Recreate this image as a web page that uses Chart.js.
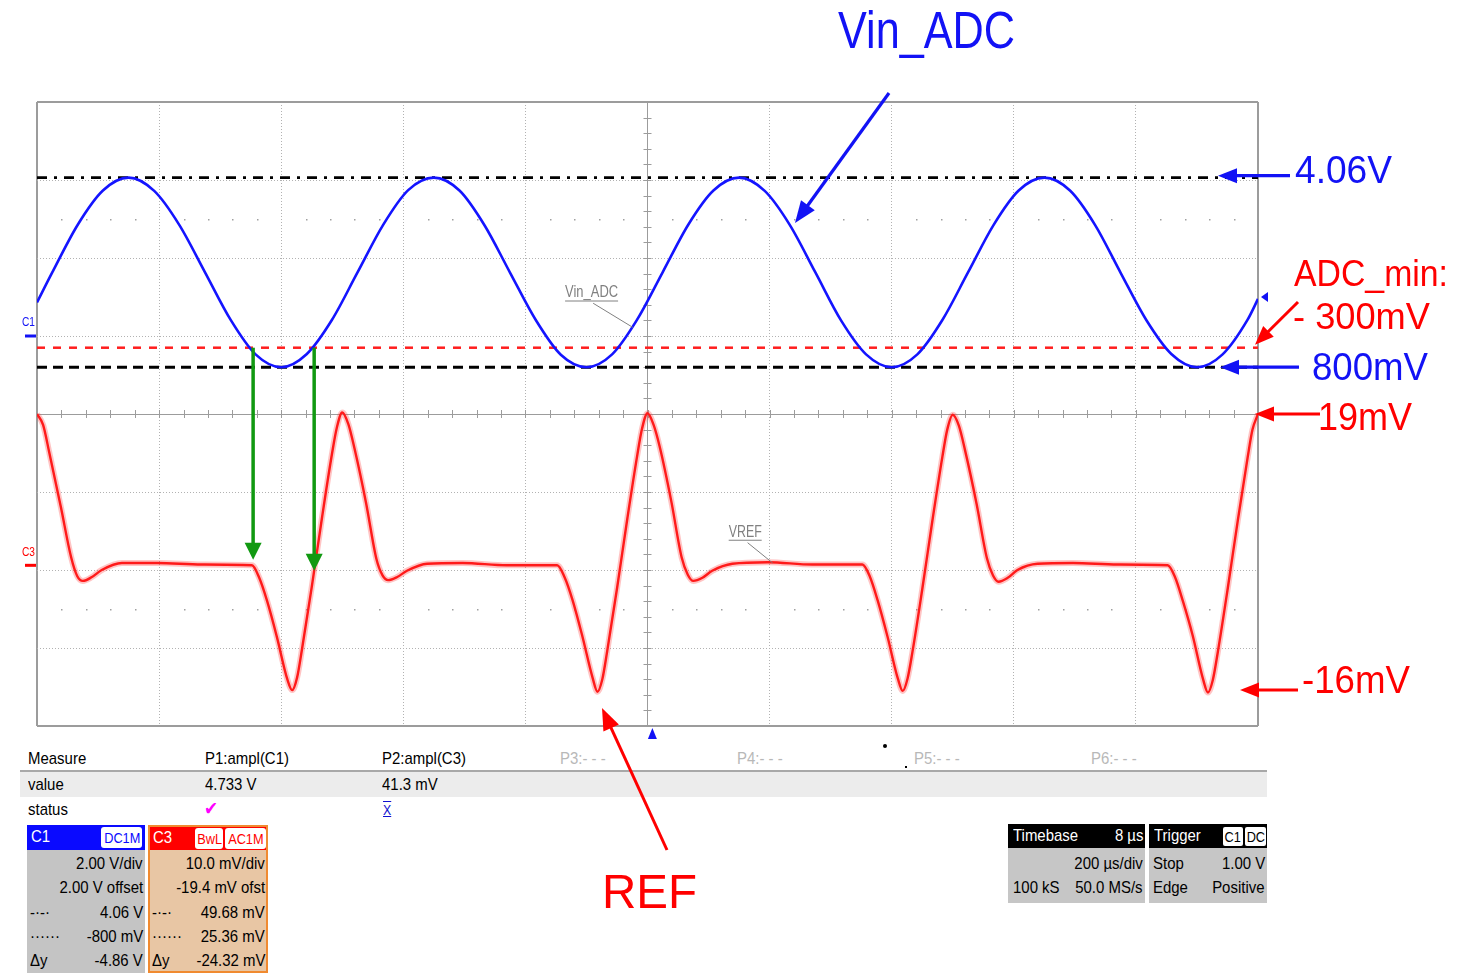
<html><head>
<meta charset="UTF-8">
<title>Vin_ADC / REF scope capture</title>
<script src="https://cdn.jsdelivr.net/npm/chart.js"></script>
<style>
* { margin: 0; padding: 0; box-sizing: border-box; }
body { width: 1470px; height: 973px; background: #fff; overflow: hidden; position: relative;
  font-family: "Liberation Sans", Arial, sans-serif; }
#wrap { position: absolute; left: 0; top: 0; width: 1470px; height: 973px; z-index: 5; pointer-events: none; }
.t { position: absolute; font-size: 17px; line-height: 20px; white-space: nowrap; color: #000;
  transform: scaleX(.88); transform-origin: left center; }
.t.r { transform-origin: right center; text-align: right; }
.dim { color: #b8b8b8; }
.box { position: absolute; }
.hd { position: absolute; left: 0; top: 0; right: 0; height: 25px; }
.tag { position: absolute; top: 2px; height: 21px; background: #fff; border-radius: 3px;
  font-size: 15px; line-height: 21px; text-align: center; white-space: nowrap; }
.tag span { display: inline-block; transform: scaleX(.85); }
</style>
</head>
<body>
<div id="wrap"><canvas id="scope"></canvas></div>

<!-- measurement strip -->
<div class="t" style="left:28px;top:749px">Measure</div>
<div class="t" style="left:205px;top:749px">P1:ampl(C1)</div>
<div class="t" style="left:382px;top:749px">P2:ampl(C3)</div>
<div class="t dim" style="left:560px;top:749px">P3:- - -</div>
<div class="t dim" style="left:737px;top:749px">P4:- - -</div>
<div class="t dim" style="left:914px;top:749px">P5:- - -</div>
<div class="t dim" style="left:1091px;top:749px">P6:- - -</div>
<div style="position:absolute;left:20px;top:770px;width:1247px;height:2px;background:#a8a8a8"></div>
<div style="position:absolute;left:20px;top:772px;width:1247px;height:25px;background:#ececec"></div>
<div class="t" style="left:28px;top:775px">value</div>
<div class="t" style="left:205px;top:775px">4.733 V</div>
<div class="t" style="left:382px;top:775px">41.3 mV</div>
<div class="t" style="left:28px;top:800px">status</div>
<div class="t" style="left:204px;top:799px;color:#ff00ff;font-size:19px">✔</div>
<div class="t" style="left:383px;top:800px;color:#1010d0;font-size:14px;text-decoration:overline underline">X</div>
<div style="position:absolute;left:883px;top:744px;width:4px;height:4px;border-radius:2px;background:#000"></div>
<div style="position:absolute;left:905px;top:766px;width:2px;height:2px;background:#000"></div>

<!-- C1 channel box -->
<div class="box" style="left:27px;top:825px;width:118px;height:148px;background:#c4c4c4">
  <div class="hd" style="background:#0a0aff"></div>
  <div class="t" style="left:4px;top:2px;color:#fff">C1</div>
  <div class="tag" style="left:74px;width:41px;color:#0a0aff"><span>DC1M</span></div>
  <div class="t r" style="right:2px;top:29px">2.00 V/div</div>
  <div class="t r" style="right:2px;top:53px">2.00 V offset</div>
  <div class="t" style="left:3px;top:78px">-·-·</div>
  <div class="t r" style="right:2px;top:78px">4.06 V</div>
  <div class="t" style="left:3px;top:102px">······</div>
  <div class="t r" style="right:2px;top:102px">-800 mV</div>
  <div class="t" style="left:3px;top:126px">Δy</div>
  <div class="t r" style="right:2px;top:126px">-4.86 V</div>
</div>

<!-- C3 channel box -->
<div class="box" style="left:148px;top:825px;width:120px;height:148px;background:#e8c6a4;border:2px solid #f08a30">
  <div class="hd" style="background:#ff0000;height:23px"></div>
  <div class="t" style="left:3px;top:1px;color:#fff">C3</div>
  <div class="tag" style="left:45px;top:1px;width:28px;color:#ff0000"><span>BwL</span></div>
  <div class="tag" style="left:75px;top:1px;width:41px;color:#ff0000"><span>AC1M</span></div>
  <div class="t r" style="right:1px;top:27px">10.0 mV/div</div>
  <div class="t r" style="right:1px;top:51px">-19.4 mV ofst</div>
  <div class="t" style="left:2px;top:76px">-·-·</div>
  <div class="t r" style="right:1px;top:76px">49.68 mV</div>
  <div class="t" style="left:2px;top:100px">······</div>
  <div class="t r" style="right:1px;top:100px">25.36 mV</div>
  <div class="t" style="left:2px;top:124px">Δy</div>
  <div class="t r" style="right:1px;top:124px">-24.32 mV</div>
</div>

<!-- timebase / trigger boxes -->
<div class="box" style="left:1008px;top:824px;width:137px;height:79px;background:#c6c6c6">
  <div class="hd" style="background:#000;height:24px"></div>
  <div class="t" style="left:5px;top:2px;color:#fff">Timebase</div>
  <div class="t r" style="right:2px;top:2px;color:#fff">8 µs</div>
  <div class="t r" style="right:2px;top:30px">200 µs/div</div>
  <div class="t" style="left:5px;top:54px">100 kS</div>
  <div class="t r" style="right:2px;top:54px">50.0 MS/s</div>
</div>
<div class="box" style="left:1149px;top:824px;width:118px;height:79px;background:#c6c6c6">
  <div class="hd" style="background:#000;height:24px"></div>
  <div class="t" style="left:5px;top:2px;color:#fff">Trigger</div>
  <div class="tag" style="left:74px;top:3px;width:20px;height:19px;line-height:19px;border-radius:2px;color:#000"><span>C1</span></div>
  <div class="tag" style="left:96px;top:3px;width:21px;height:19px;line-height:19px;border-radius:2px;color:#000"><span>DC</span></div>
  <div class="t" style="left:4px;top:30px">Stop</div>
  <div class="t r" style="right:2px;top:30px">1.00 V</div>
  <div class="t" style="left:4px;top:54px">Edge</div>
  <div class="t r" style="right:2px;top:54px">Positive</div>
</div>

<script>
// time axis in µs, 200 µs/div, 10 divisions
const timeMin = -1000, timeMax = 1000, timeStep = 200;

// C1 (Vin_ADC), volts
const vinT = [-1000, -975, -933, -892, -850, -808, -767, -725, -683, -642, -600, -558, -517,
  -475, -433, -392, -350, -308, -267, -225, -183, -142, -100, -58, -17,
  25, 67, 108, 150, 192, 233, 275, 317, 358, 400, 442, 483,
  525, 567, 608, 650, 692, 733, 775, 817, 858, 900, 942, 983, 1000];
const vinV = [0.86, 1.63, 2.86, 3.73, 4.06, 3.72, 2.85, 1.64, 0.42, -0.47, -0.80, -0.46, 0.41,
  1.63, 2.85, 3.74, 4.06, 3.73, 2.84, 1.62, 0.41, -0.48, -0.80, -0.47, 0.42,
  1.64, 2.86, 3.73, 4.06, 3.72, 2.85, 1.63, 0.40, -0.47, -0.80, -0.47, 0.41,
  1.63, 2.85, 3.73, 4.06, 3.73, 2.85, 1.62, 0.41, -0.46, -0.80, -0.47, 0.42, 0.95];

// C3 (REF), mV
const refT = [-1000, -990, -980, -961, -944, -934, -925, -910, -894, -861, -803, -730, -648, -636, -623, -607, -590, -582, -574, -566, -550, -533, -517, -509,
  -500, -490, -480, -461, -444, -434, -425, -410, -394, -361, -303, -230, -148, -136, -123, -107, -90, -82, -74, -66, -50, -33, -17, -9,
  0, 10, 20, 39, 56, 66, 75, 90, 106, 139, 197, 270, 352, 364, 377, 393, 410, 418, 426, 434, 450, 467, 483, 491,
  500, 510, 520, 539, 556, 566, 575, 590, 606, 639, 697, 770, 852, 864, 877, 893, 910, 918, 926, 934, 950, 967, 983, 991,
  1000];
const refMv = [19.4, 18.0, 14.5, 7.5, 1.0, -1.4, -2.0, -1.5, -0.6, 0.3, 0.3, 0.1, 0.0, -1.6, -4.6, -9.2, -14.6, -16.0, -14.4, -10.8, -2.8, 6.2, 14.2, 17.6,
  19.6, 18.1, 15.0, 8.0, 0.8, -1.3, -1.9, -1.5, -0.7, 0.2, 0.3, 0.0, 0.0, -1.5, -4.4, -9.0, -14.4, -16.2, -14.6, -11.0, -3.0, 6.0, 14.0, 17.5,
  19.5, 18.0, 15.2, 8.2, 1.0, -1.2, -2.0, -1.6, -0.7, 0.2, 0.4, 0.1, 0.1, -1.4, -4.5, -9.1, -14.5, -16.1, -14.5, -11.1, -3.1, 5.9, 13.9, 17.4,
  19.3, 17.9, 14.8, 7.9, 0.9, -1.3, -2.1, -1.6, -0.6, 0.2, 0.3, 0.1, 0.0, -1.5, -4.6, -9.0, -14.6, -16.3, -14.7, -11.2, -3.2, 5.8, 13.8, 17.4,
  19.4];

// cursors (C1 volts)
const cursorMax = 4.06;
const cursorMin = -0.80;
const adcMin = -0.30;
const trigLevel = 1.00;
const trigDelay = 8;

// crossing points of Vin_ADC with ADC_min (µs) and where they land on REF (mV)
const crossT = [-646, -546];
const crossRefMv = [0.7, -0.7];

function pts(xs, ys) { return xs.map((x, i) => ({ x: x, y: ys[i] })); }
function flat(v) { return [{ x: timeMin, y: v }, { x: timeMax, y: v }]; }

const edge = (v, lo, hi) => v === lo || v === hi;
function gridOpts(lo, hi, mid) {
  return {
    color: c => c.tick && (edge(c.tick.value, lo, hi) || c.tick.value === mid) ? '#9c9c9c' : '#b2b2b2',
    lineWidth: c => c.tick && edge(c.tick.value, lo, hi) ? 2 : 1,
    drawTicks: false
  };
}
function dashOpts(lo, hi, mid) {
  return c => c.tick && (edge(c.tick.value, lo, hi) || c.tick.value === mid) ? [] : [1, 2];
}

const font = size => size + 'px "Liberation Sans", Arial, sans-serif';
function fitText(ctx, s, x, base, size, color, width) {
  ctx.save();
  ctx.font = font(size);
  const m = ctx.measureText(s).width;
  ctx.translate(x, base);
  ctx.scale(width / m, 1);
  ctx.fillStyle = color;
  ctx.textBaseline = 'alphabetic';
  ctx.fillText(s, 0, 0);
  ctx.restore();
}
function arrow(ctx, x1, y1, x2, y2, color, w, head, hw) {
  const a = Math.atan2(y2 - y1, x2 - x1), c = Math.cos(a), s = Math.sin(a);
  ctx.save();
  ctx.strokeStyle = color; ctx.fillStyle = color; ctx.lineWidth = w; ctx.setLineDash([]);
  ctx.beginPath(); ctx.moveTo(x1, y1); ctx.lineTo(x2 - c * head * 0.8, y2 - s * head * 0.8); ctx.stroke();
  ctx.beginPath(); ctx.moveTo(x2, y2);
  ctx.lineTo(x2 - head * c + hw / 2 * s, y2 - head * s - hw / 2 * c);
  ctx.lineTo(x2 - head * c - hw / 2 * s, y2 - head * s + hw / 2 * c);
  ctx.closePath(); ctx.fill();
  ctx.restore();
}

// centre crosshair ticks and sub-division dots
const scopeGrid = {
  id: 'scopeGrid',
  beforeDatasetsDraw(chart) {
    const { ctx, chartArea: a, scales } = chart;
    const cx = scales.x.getPixelForValue(0), cy = scales.y.getPixelForValue(-2);
    const dx = (a.right - a.left) / 50, dy = (a.bottom - a.top) / 40;
    ctx.save();
    ctx.strokeStyle = '#9c9c9c'; ctx.lineWidth = 1;
    ctx.beginPath();
    for (let i = 1; i < 50; i++) {
      const x = Math.round(a.left + i * dx) + 0.5;
      ctx.moveTo(x, cy - 4); ctx.lineTo(x, cy + 4);
    }
    for (let j = 1; j < 40; j++) {
      const y = Math.round(a.top + j * dy) + 0.5;
      ctx.moveTo(cx - 4, y); ctx.lineTo(cx + 4, y);
    }
    ctx.stroke();
    ctx.fillStyle = '#a0a0a0';
    [cy - 12.5 * dy, cy + 12.5 * dy].forEach(y => {
      for (let i = 1; i < 50; i++) {
        if (i % 5 === 0) continue;
        ctx.fillRect(Math.round(a.left + i * dx), Math.round(y), 1.5, 1.5);
      }
    });
    ctx.restore();
  }
};

// labels, arrows and markers
const notes = {
  id: 'notes',
  afterDatasetsDraw(chart) {
    const { ctx, scales } = chart;
    const X = t => scales.x.getPixelForValue(t);
    const Y1 = v => scales.y.getPixelForValue(v);
    const Y3 = v => scales.y2.getPixelForValue(v);
    const blue = '#1212f5', red = '#ff0000', green = '#119911';

    // green arrows from ADC_min crossing down to REF
    crossT.forEach((t, i) => arrow(ctx, X(t), Y1(adcMin), X(t), Y3(crossRefMv[i]), green, 3.5, 17, 17));

    // on-trace labels
    ctx.save();
    ctx.strokeStyle = '#808080'; ctx.lineWidth = 1;
    fitText(ctx, 'Vin_ADC', X(-135), Y1(1.0), 16, '#808080', 53);
    ctx.beginPath(); ctx.moveTo(X(-135), Y1(1.0) + 4); ctx.lineTo(X(-135) + 53, Y1(1.0) + 4);
    ctx.moveTo(X(-89), Y1(0.84)); ctx.lineTo(X(-24), Y1(0.22)); ctx.stroke();
    fitText(ctx, 'VREF', X(133), Y3(3.6), 16, '#808080', 33);
    ctx.beginPath(); ctx.moveTo(X(133), Y3(3.6) + 3); ctx.lineTo(X(133) + 33, Y3(3.6) + 3);
    ctx.moveTo(X(164), Y3(2.9)); ctx.lineTo(X(205), Y3(0.3)); ctx.stroke();
    ctx.restore();

    // channel ground markers
    ctx.save();
    ctx.lineWidth = 3;
    ctx.strokeStyle = '#1212f5';
    ctx.beginPath(); ctx.moveTo(25, Y1(0)); ctx.lineTo(36, Y1(0)); ctx.stroke();
    ctx.strokeStyle = red;
    ctx.beginPath(); ctx.moveTo(25, Y3(0)); ctx.lineTo(36, Y3(0)); ctx.stroke();
    ctx.restore();
    fitText(ctx, 'C1', 22, Y1(0) - 10, 12, '#1212f5', 13);
    fitText(ctx, 'C3', 22, Y3(0) - 9, 12, red, 13);

    // trigger position and level markers
    ctx.save();
    ctx.fillStyle = '#1212f5';
    const tx = X(trigDelay), by = scales.y.bottom;
    ctx.beginPath(); ctx.moveTo(tx, by + 2); ctx.lineTo(tx + 4.5, by + 13); ctx.lineTo(tx - 4.5, by + 13); ctx.fill();
    const ly = Y1(trigLevel), rx = scales.x.right;
    ctx.beginPath(); ctx.moveTo(rx + 3, ly); ctx.lineTo(rx + 10, ly - 5); ctx.lineTo(rx + 10, ly + 5); ctx.fill();
    ctx.restore();

    // callouts
    fitText(ctx, 'Vin_ADC', 838, 48, 51, blue, 177);
    arrow(ctx, 889, 93, 795, 223, blue, 3.2, 22, 17);

    fitText(ctx, '4.06V', 1295, 183, 39, blue, 97);
    arrow(ctx, 1290, Y1(cursorMax) - 2, 1218, Y1(cursorMax) - 2, blue, 3.2, 19, 15);

    fitText(ctx, 'ADC_min:', 1294, 286, 37, red, 154);
    fitText(ctx, '- 300mV', 1293, 329, 37, red, 137);
    arrow(ctx, 1298, 302, 1255, Y1(adcMin) - 3, red, 3, 19, 15);

    fitText(ctx, '800mV', 1312, 380, 38, blue, 116);
    arrow(ctx, 1299, Y1(cursorMin), 1220, Y1(cursorMin), blue, 3.2, 19, 15);

    fitText(ctx, '19mV', 1318, 430, 38, red, 94);
    arrow(ctx, 1320, Y3(19.4), 1255, Y3(19.4), red, 3, 19, 15);

    fitText(ctx, '-16mV', 1302, 693, 38, red, 108);
    arrow(ctx, 1298, Y3(-16), 1240, Y3(-16), red, 3, 19, 15);

    fitText(ctx, 'REF', 602, 908, 49, red, 95);
    arrow(ctx, 667, 850, 602, 708, red, 3, 22, 17);
  }
};

new Chart(document.getElementById('scope'), {
  type: 'line',
  data: {
    datasets: [
      { label: 'Vin_ADC', data: pts(vinT, vinV), yAxisID: 'y', borderColor: '#1414ff', borderWidth: 2.6,
        cubicInterpolationMode: 'monotone' },
      { label: 'REF', data: pts(refT, refMv), yAxisID: 'y2', borderColor: '#ff1a1a', borderWidth: 2.4,
        cubicInterpolationMode: 'monotone' },
      { label: 'REF noise', data: pts(refT, refMv), yAxisID: 'y2', borderColor: 'rgba(255,60,60,0.3)', borderWidth: 6,
        cubicInterpolationMode: 'monotone' },
      { label: 'ADC_min', data: flat(adcMin), yAxisID: 'y', borderColor: '#ff1e1e', borderWidth: 2.5, borderDash: [8, 8] },
      { label: 'cursor min', data: flat(cursorMin), yAxisID: 'y', borderColor: '#000', borderWidth: 3, borderDash: [10, 6] },
      { label: 'cursor max', data: flat(cursorMax), yAxisID: 'y', borderColor: '#000', borderWidth: 2.8, borderDash: [10, 7, 3, 7] }
    ]
  },
  options: {
    responsive: true,
    maintainAspectRatio: false,
    animation: false,
    events: [],
    layout: { padding: { left: 37, top: 102, right: 212, bottom: 247 } },
    elements: { point: { radius: 0 } },
    plugins: { legend: { display: false }, tooltip: { enabled: false } },
    scales: {
      x: { type: 'linear', min: timeMin, max: timeMax,
        ticks: { display: false, stepSize: timeStep },
        grid: gridOpts(timeMin, timeMax, 0),
        border: { display: false, dash: dashOpts(timeMin, timeMax, 0) } },
      y: { position: 'left', min: -10, max: 6,
        ticks: { display: false, stepSize: 2 },
        grid: gridOpts(-10, 6, -2),
        border: { display: false, dash: dashOpts(-10, 6, -2) } },
      y2: { display: false, min: -20.6, max: 59.4 }
    }
  },
  plugins: [scopeGrid, notes]
});
</script>
</body></html>
